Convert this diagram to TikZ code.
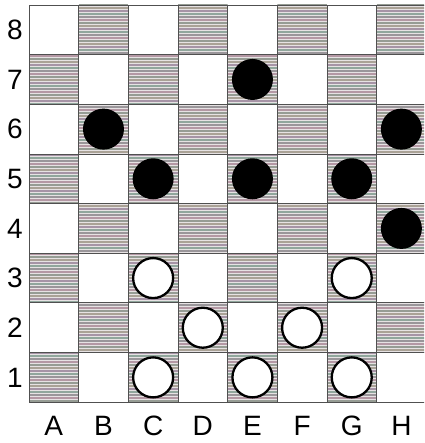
\documentclass[tikz,border=0pt]{standalone}
\usepackage{fontspec}
\setmainfont{Liberation Sans}
\definecolor{stbg}{HTML}{E6E2E3}
\definecolor{st0}{HTML}{969C94}
\definecolor{st1}{HTML}{B498A4}
\definecolor{st2}{HTML}{9A969A}
\definecolor{st3}{HTML}{90A69C}
\definecolor{st4}{HTML}{A694A6}
\definecolor{st5}{HTML}{AAA296}
\definecolor{gridc}{HTML}{505050}
\begin{document}
\begin{tikzpicture}[x=1pt,y=1pt,
  blk/.style={circle,fill=black,minimum size=41pt,inner sep=0pt},
  wht/.style={circle,draw=black,line width=2.3pt,fill=white,minimum size=40pt,inner sep=0pt},
  lbl/.style={inner sep=0pt,font=\fontsize{28}{30}\selectfont},
  gridline/.style={draw=gridc,line width=0.8pt},
  stripe/.style={line width=1.8pt}]
\useasboundingbox (0,0) rectangle (424,443);
\clip (0,0) rectangle (424,443);
\fill[white] (0,0) rectangle (424,443);
\def\L{29}\def\B{40.8}\def\S{49.65}
% cell centres
\foreach \c/\n in {1/A,2/B,3/C,4/D,5/E,6/F,7/G,8/H}{
  \foreach \r in {1,...,8}{
    \coordinate (\n\r) at ({\L+(\c-0.5)*\S},{\B+(\r-0.5)*\S});
  }
}
% shaded squares
\foreach \c in {1,...,8}{
  \foreach \r in {1,...,8}{
    \pgfmathtruncatemacro\p{mod(\c+\r,2)}
    \ifnum\p=0
      \begin{scope}
        \clip ({\L+(\c-1)*\S},{\B+(\r-1)*\S}) rectangle ++(\S,\S);
        \fill[stbg] ({\L+(\c-1)*\S},{\B+(\r-1)*\S}) rectangle ++(\S,\S);
        \pgfmathtruncatemacro\ks{int((\r-1)*\S/3)}
        \foreach \j in {-1,...,18}{
          \pgfmathtruncatemacro\k{\ks+\j}
          \pgfmathtruncatemacro\m{mod(\k+6,6)}
          \draw[stripe,color=st\m] ({\L+(\c-1)*\S},{\B+1.5+3*\k}) -- ++(\S,0);
        }
      \end{scope}
    \fi
  }
}
% grid
\foreach \i in {0,...,8}{
  \draw[gridline] ({\L+\i*\S},\B) -- ({\L+\i*\S},{\B+8*\S});
  \draw[gridline] (\L,{\B+\i*\S}) -- ({\L+8*\S},{\B+\i*\S});
}
% black pieces
\node[blk] (pE7) at (E7) {};
\node[blk] (pB6) at (B6) {};
\node[blk] (pH6) at (H6) {};
\node[blk] (pC5) at (C5) {};
\node[blk] (pE5) at (E5) {};
\node[blk] (pG5) at (G5) {};
\node[blk] (pH4) at (H4) {};
% white pieces
\node[wht] (pC3) at (C3) {};
\node[wht] (pG3) at (G3) {};
\node[wht] (pD2) at (D2) {};
\node[wht] (pF2) at (F2) {};
\node[wht] (pC1) at (C1) {};
\node[wht] (pE1) at (E1) {};
\node[wht] (pG1) at (G1) {};
% labels
\foreach \c/\n in {1/A,2/B,3/C,4/D,5/E,6/F,7/G,8/H}{
  \node[lbl] (col\n) at ({\L+(\c-0.5)*\S},17) {\n};
}
\foreach \r in {1,...,8}{
  \node[lbl] (row\r) at (15,{\B+(\r-0.5)*\S}) {\r};
}
\end{tikzpicture}
\end{document}
